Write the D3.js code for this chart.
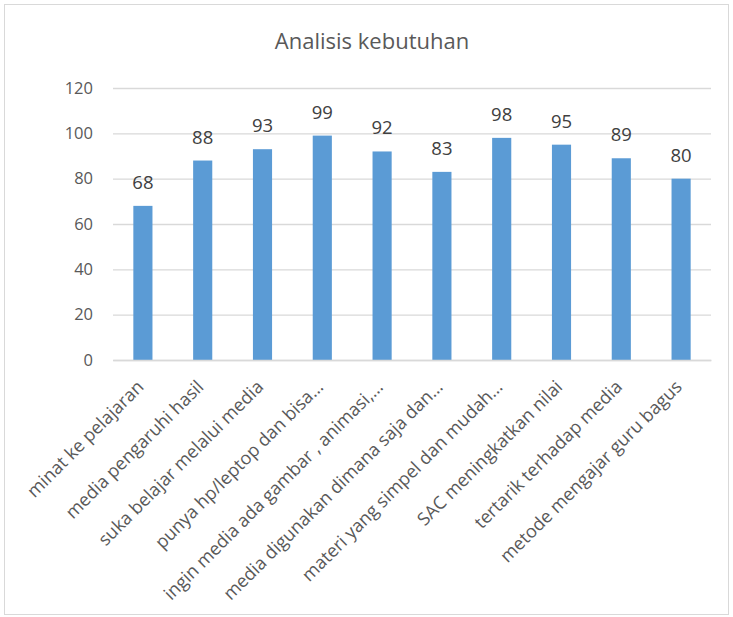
<!DOCTYPE html>
<html><head><meta charset="utf-8">
<script src="https://cdn.jsdelivr.net/npm/d3@7"></script>
<style>body{margin:0;background:#fff}svg{display:block}</style>
</head><body>
<svg id="c" width="733" height="617"></svg>
<script>
const categories = ["minat ke pelajaran","media pengaruhi hasil","suka belajar melalui media","punya hp/leptop dan bisa…","ingin media ada gambar , animasi,…","media digunakan dimana saja dan…","materi yang simpel dan mudah…","SAC meningkatkan nilai","tertarik terhadap media","metode mengajar guru bagus"];
const values = [68,88,93,99,92,83,98,95,89,80];
const yTicks = [0,20,40,60,80,100,120];
const title = "Analisis kebutuhan";

const font = "'Open Sans', sans-serif";
const svg = d3.select("#c");
svg.append("rect").attr("x",4.5).attr("y",4.5).attr("width",724).attr("height",610)
  .attr("fill","#fff").attr("stroke","#d9d9d9");

const m = {l:113, r:711, t:88, b:360};
const x = d3.scaleBand().domain(categories).range([m.l,m.r]).paddingInner(0.68).paddingOuter(0.34);
const y = d3.scaleLinear().domain([0,120]).range([m.b,m.t]);

svg.append("text").attr("x",372).attr("y",49).attr("text-anchor","middle")
  .attr("font-family",font).attr("font-size",22).attr("fill","#595959").text(title);

const ya = svg.append("g").attr("transform",`translate(${m.l},0)`)
  .call(d3.axisLeft(y).tickValues(yTicks).tickSize(-(m.r-m.l)).tickPadding(20));
ya.select(".domain").remove();
ya.selectAll(".tick line").attr("stroke","#d9d9d9").attr("stroke-width",1.3);
ya.selectAll(".tick text").attr("font-family",font).attr("font-size",16.5).attr("fill","#595959");

svg.append("g").selectAll("rect").data(values).join("rect")
  .attr("x",(d,i)=>x(categories[i])).attr("width",x.bandwidth())
  .attr("y",d=>y(d)).attr("height",d=>y(0)-y(d)).attr("fill","#5b9bd5");

svg.append("g").selectAll("text").data(values).join("text")
  .attr("x",(d,i)=>x(categories[i])+x.bandwidth()/2).attr("y",d=>y(d)-17)
  .attr("text-anchor","middle").attr("font-family",font).attr("font-size",18.5)
  .attr("fill","#404040").text(d=>d);

const xa = svg.append("g").attr("transform",`translate(0,${m.b})`)
  .call(d3.axisBottom(x).tickSize(0).tickPadding(0));
xa.select(".domain").attr("stroke","#d9d9d9").attr("stroke-width",1.3);
xa.selectAll(".tick text").attr("font-family",font).attr("font-size",18).attr("fill","#595959")
  .attr("text-anchor","end").attr("dy",null).attr("y",0)
  .attr("transform","translate(2,28) rotate(-45)");
</script>
</body></html>
